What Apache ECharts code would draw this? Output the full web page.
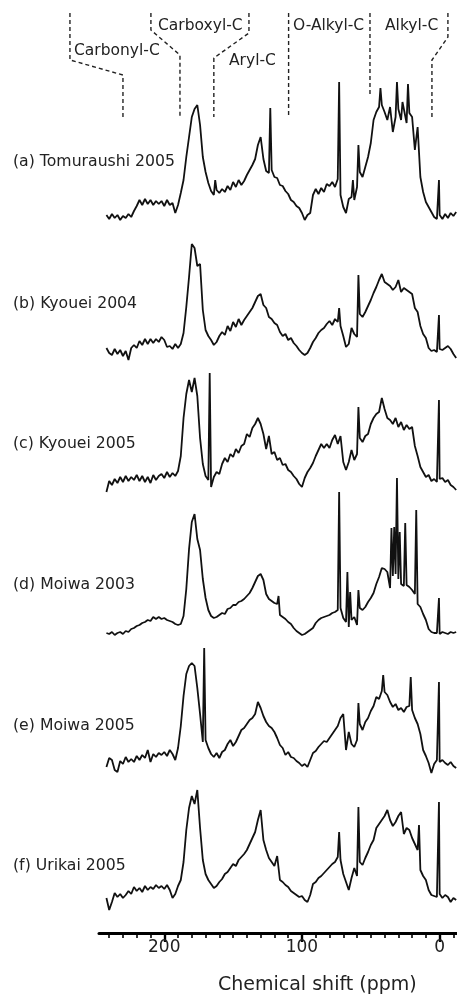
<!DOCTYPE html>
<html>
<head>
<meta charset="utf-8">
<script src="https://cdn.jsdelivr.net/npm/echarts@6/dist/echarts.min.js"></script>
<style>
html, body { margin: 0; padding: 0; background: #fff; }
#main { width: 457px; height: 994px; }
</style>
</head>
<body>
<div id="main"></div>
<script>
// chemical shift grid (ppm), shared by all spectra
var shifts = [
  242, 240, 238, 236, 234, 232, 230, 228, 226, 224,
  222, 220, 218, 216, 214, 212, 210, 208, 206, 204,
  202, 200, 198, 196, 194, 192, 190, 188, 186, 184,
  182, 180, 178, 176, 174, 172, 170, 168, 166, 164,
  162, 160, 158, 156, 154, 152, 150, 148, 146, 144,
  142, 140, 138, 136, 134, 132, 130, 128, 126, 124,
  122, 120, 118, 116, 114, 112, 110, 108, 106, 104,
  102, 100, 98, 96, 94, 92, 90, 88, 86, 84,
  82, 80, 78, 76, 74, 72, 70, 68, 66, 64,
  62, 60, 58, 56, 54, 52, 50, 48, 46, 44,
  42, 40, 38, 36, 34, 32, 30, 28, 26, 24,
  22, 20, 18, 16, 14, 12, 10, 8, 6, 4,
  2, 0, -2, -4, -6, -8, -10, -12
];

var sampleNames = ['(a) Tomuraushi 2005', '(b) Kyouei 2004', '(c) Kyouei 2005',
  '(d) Moiwa 2003', '(e) Moiwa 2005', '(f) Urikai 2005'];

// intensity (arbitrary units) on the shift grid
var tomuraushi2005 = [
  2, -2, 3, -1, 2, -3, 1, -1, 3, 0,
  6, 11, 17, 12, 18, 13, 17, 12, 16, 13,
  16, 11, 17, 12, 14, 4, 12, 24, 37, 60,
  80, 100, 108, 112, 92, 60, 45, 34, 26, 22,
  27, 24, 28, 25, 31, 27, 35, 30, 37, 32,
  36, 42, 47, 52, 58, 72, 80, 58, 46, 44,
  47, 40, 39, 32, 31, 26, 23, 17, 15, 11,
  9, 4, -3, 2, 4, 22, 28, 23, 29, 25,
  33, 31, 35, 30, 38, 22, 10, 4, 18, 20,
  17, 30, 45, 40, 50, 60, 74, 97, 105, 110,
  112, 105, 97, 110, 85, 100, 108, 97, 115, 94,
  104, 100, 67, 90, 40, 25, 15, 10, 5, 0,
  -2, 2, -2, 3, -1, 4, 1, 5
];
var kyouei2004 = [
  4, -1, -3, 3, -2, 2, -4, 1, -8, 4,
  7, 4, 11, 7, 13, 8, 13, 9, 13, 10,
  15, 12, 5, 6, 3, 8, 4, 8, 19, 45,
  75, 108, 104, 86, 88, 42, 22, 16, 12, 7,
  10, 16, 20, 17, 26, 21, 30, 25, 33, 27,
  32, 36, 40, 44, 50, 56, 58, 47, 44, 35,
  33, 29, 27, 20, 16, 18, 12, 14, 9, 6,
  2, -1, -3, -1, 4, 10, 14, 19, 22, 24,
  28, 31, 27, 33, 30, 26, 16, 5, 8, 24,
  18, 15, 38, 35, 40, 46, 52, 59, 65, 72,
  78, 70, 68, 66, 62, 65, 72, 60, 64, 62,
  60, 58, 44, 40, 26, 18, 14, 4, 1, 2,
  0, 3, 2, 4, 6, 3, -2, -6
];
var kyouei2005 = [
  -8, 3, -1, 5, 1, 7, 2, 8, 3, 7,
  4, 9, 3, 8, 2, 7, 1, 9, 4, 8,
  10, 6, 12, 7, 11, 8, 13, 28, 66, 90,
  104, 92, 106, 88, 46, 20, 8, 4, -3, 7,
  12, 10, 20, 26, 22, 30, 27, 35, 31, 38,
  40, 50, 47, 56, 60, 66, 60, 50, 35, 48,
  30, 32, 24, 26, 19, 20, 14, 12, 8, 5,
  0, -3, 6, 12, 16, 21, 28, 34, 40, 36,
  40, 36, 44, 49, 40, 48, 22, 14, 22, 34,
  24, 30, 46, 42, 48, 50, 60, 66, 70, 72,
  86, 75, 66, 64, 60, 66, 57, 62, 54, 59,
  55, 57, 38, 28, 17, 12, 7, 9, 3, 5,
  2, 5, 6, 2, 4, -1, -3, -6
];
var moiwa2003 = [
  1, 0, 2, -1, 1, 2, 0, 3, 2, 5,
  6, 8, 9, 11, 12, 14, 13, 17, 15, 17,
  15, 16, 14, 13, 12, 10, 9, 10, 18, 45,
  85, 112, 120, 95, 84, 55, 36, 24, 18, 16,
  17, 19, 21, 20, 25, 26, 29, 29, 32, 33,
  35, 38, 41, 46, 52, 58, 60, 54, 40, 35,
  33, 31, 30, 19, 17, 15, 12, 10, 6, 3,
  1, -1, 0, 2, 4, 6, 11, 14, 16, 17,
  18, 19, 21, 22, 24, 26, 16, 12, 7, 14,
  17, 9, 26, 24, 27, 32, 36, 41, 50, 57,
  66, 65, 62, 46, 58, 60, 55, 50, 48, 49,
  47, 44, 40, 30, 27, 20, 14, 5, 2, 1,
  1, 0, 2, 1, 0, 2, 1, 2
];
var moiwa2005 = [
  -1, 8, 6, -4, -6, 5, 2, 9, 4, 7,
  4, 10, 6, 11, 8, 16, 4, 12, 9, 13,
  11, 14, 10, 16, 12, 6, 18, 40, 70, 92,
  100, 103, 100, 78, 52, 24, 26, 18, 12, 9,
  13, 8, 14, 16, 22, 26, 20, 24, 30, 36,
  38, 42, 46, 48, 52, 64, 58, 50, 44, 40,
  38, 34, 28, 21, 18, 11, 14, 9, 8, 5,
  3, 0, 2, -1, 6, 13, 15, 19, 22, 25,
  24, 28, 32, 36, 40, 48, 52, 16, 34, 22,
  19, 26, 42, 36, 44, 48, 55, 60, 69, 67,
  75, 74, 71, 64, 59, 62, 56, 58, 54, 59,
  60, 56, 48, 42, 32, 16, 10, 3, -7, 2,
  6, 4, 6, 3, 1, 4, 0, -2
];
var urikai2005 = [
  2, -10, -2, 7, 3, 6, 2, 5, 9, 6,
  13, 9, 12, 8, 14, 10, 13, 11, 15, 12,
  14, 11, 15, 10, 2, 6, 14, 20, 38, 70,
  92, 104, 96, 110, 72, 40, 26, 20, 16, 12,
  14, 18, 21, 26, 28, 32, 36, 34, 40, 43,
  46, 50, 56, 62, 68, 80, 90, 60, 50, 42,
  38, 34, 44, 20, 18, 15, 13, 9, 7, 5,
  3, 4, 0, -2, 5, 16, 18, 22, 24, 27,
  30, 33, 36, 38, 43, 40, 26, 18, 10, 22,
  32, 24, 38, 35, 42, 48, 55, 60, 72, 76,
  80, 84, 90, 80, 74, 78, 84, 88, 66, 72,
  70, 62, 56, 50, 30, 24, 20, 10, 5, 4,
  3, 6, 2, 5, 3, -2, 2, 0
];

// sharp lines [ppm, intensity]
var spikesA = [[163, 37], [123, 109], [73, 135], [63, 37], [59, 72], [43, 129], [31, 135], [27, 115], [23, 133], [0.5, 37]];
var spikesB = [[73, 44], [59, 77], [0.5, 37]];
var spikesC = [[167, 111], [59, 77], [0.5, 84]];
var spikesD = [[117, 38], [73, 142], [67, 62], [65, 42], [59, 44], [35, 106], [33, 107], [31, 156], [29, 102], [25, 111], [17, 124], [0.5, 36]];
var spikesE = [[171, 118], [59, 63], [41, 91], [21, 89], [0.5, 84]];
var spikesF = [[73, 68], [59, 93], [15, 75], [0.5, 98]];

// vertical stacking offset of each trace
var offsets = [716, 581, 449, 299, 167, 33];

// region brackets drawn above the spectra [ppm, height]
var brackets = [
  [[268.5, 920], [268.5, 873], [230, 858], [230, 816]],
  [[209.7, 920], [209.7, 903], [188.6, 878], [188.6, 816]],
  [[138.5, 920], [138.5, 900], [164, 875], [164, 816]],
  [[109.7, 920], [109.7, 816]],
  [[50.6, 920], [50.6, 836]],
  [[-6, 920], [-6, 896], [5.6, 873], [5.6, 816]]
];
var regionNames = ['Carbonyl-C', 'Carboxyl-C', 'Aryl-C', 'O-Alkyl-C', 'Alkyl-C'];

var majorTicks = [0, 100, 200];
var minorTicks = [-10, 10, 20, 30, 40, 50, 60, 70, 80, 90, 110, 120, 130, 140, 150, 160, 170, 180, 190, 210, 220, 230, 240];

var spectra = [tomuraushi2005, kyouei2004, kyouei2005, moiwa2003, moiwa2005, urikai2005];
var spikes = [spikesA, spikesB, spikesC, spikesD, spikesE, spikesF];

function buildTrace(values, lines, offset) {
  var pts = shifts.map(function (s, i) { return [s, offset + values[i]]; });
  lines.forEach(function (p) { pts.push([p[0], offset + p[1]]); });
  pts.sort(function (a, b) { return b[0] - a[0]; });
  return pts;
}

var FONT = 'DejaVu Sans';
var series = [];
spectra.forEach(function (vals, k) {
  series.push({
    type: 'line',
    name: sampleNames[k],
    data: buildTrace(vals, spikes[k], offsets[k]),
    showSymbol: false,
    symbol: 'none',
    lineStyle: { color: '#111', width: 1.8 },
    silent: true
  });
});
// brackets live on a full-width grid with the same ppm scale
brackets.forEach(function (b) {
  series.push({
    type: 'line',
    xAxisIndex: 2,
    yAxisIndex: 1,
    data: b,
    symbol: 'none',
    lineStyle: { color: '#222', width: 1.4, type: [4, 3] },
    silent: true
  });
});

var labelY = [163, 305, 445, 586, 727, 867];
var graphics = sampleNames.map(function (n, k) {
  return {
    type: 'text', left: 13, top: labelY[k] - 9,
    style: { text: n, font: '15.7px "' + FONT + '"', fill: '#222' }
  };
});
var regionPos = [[74, 52], [158, 27], [229, 62], [293, 27], [385, 27]];
regionNames.forEach(function (n, k) {
  graphics.push({
    type: 'text', left: regionPos[k][0], top: regionPos[k][1] - 9,
    style: { text: n, font: '15.5px "' + FONT + '"', fill: '#222' }
  });
});
graphics.push({
  type: 'text', left: 218, top: 976,
  style: { text: 'Chemical shift (ppm)', font: '19px "' + FONT + '"', fill: '#222' }
});

var myChart = echarts.init(document.getElementById('main'));
var option = {
  animation: false,
  grid: [
    { left: 99, right: 0, top: 0, bottom: 61 },
    { left: 0, right: 0, top: 0, bottom: 61 }
  ],
  xAxis: [{
    type: 'value',
    min: -12.6,
    max: 247.4,
    inverse: true,
    position: 'bottom',
    splitLine: { show: false },
    axisLine: { show: true, lineStyle: { color: '#000', width: 3 } },
    axisTick: { show: true, customValues: majorTicks, length: 9, lineStyle: { color: '#000', width: 2.4 } },
    axisLabel: { customValues: majorTicks, fontSize: 17, fontFamily: FONT, color: '#222', margin: 6 }
  }, {
    type: 'value',
    min: -12.6,
    max: 247.4,
    inverse: true,
    position: 'bottom',
    splitLine: { show: false },
    axisLine: { show: false },
    axisTick: { show: true, customValues: minorTicks, length: 5, lineStyle: { color: '#000', width: 1.6 } },
    axisLabel: { show: false }
  }, {
    type: 'value',
    gridIndex: 1,
    min: -12.6,
    max: 247.4 + 99 / (358 / 260),
    inverse: true,
    show: false
  }],
  yAxis: [
    { type: 'value', min: 0, max: 933, show: false },
    { type: 'value', gridIndex: 1, min: 0, max: 933, show: false }
  ],
  series: series,
  graphic: graphics
};
myChart.setOption(option);
</script>
</body>
</html>
